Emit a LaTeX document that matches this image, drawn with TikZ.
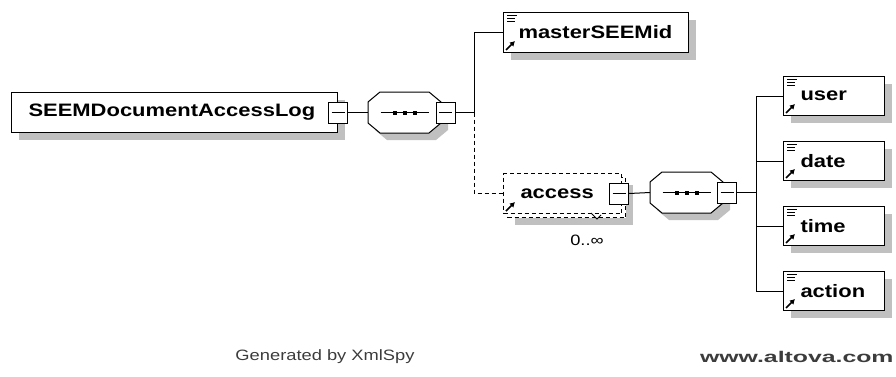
\documentclass[tikz,border=0pt]{standalone}
\usepackage{fontspec}
\setmainfont{Liberation Sans}[FakeStretch=1.22]
\newfontfamily\wwwfont{Liberation Sans}[FakeStretch=1.6]
\usetikzlibrary{arrows.meta,positioning,shadows}
\definecolor{shadegray}{RGB}{192,192,192}
\definecolor{footgray}{RGB}{60,60,60}
% small glyphs in the element boxes
\newcommand\docicon[1]{\draw[line width=.9pt] ([shift={(4pt,-3pt)}]#1.north west) -- ++(10pt,0pt) ([shift={(4pt,-6pt)}]#1.north west) -- ++(8pt,0pt) ([shift={(4pt,-9pt)}]#1.north west) -- ++(8pt,0pt);}
\newcommand\refarrow[1]{\draw[line width=1.6pt,-{Latex[length=5pt,width=6pt]}] ([shift={(3pt,3pt)}]#1.south west) -- ++(9pt,9pt);}
% octagon round a node: name, dx, dy, options
\newcommand\octagon[4]{\path[#4] ([shift={(#2+12pt,#3)}]#1.north west) -- ([shift={(#2-12pt,#3)}]#1.north east) -- ([shift={(#2,#3-10pt)}]#1.north east) -- ([shift={(#2,#3+10pt)}]#1.south east) -- ([shift={(#2-12pt,#3)}]#1.south east) -- ([shift={(#2+12pt,#3)}]#1.south west) -- ([shift={(#2,#3+10pt)}]#1.south west) -- ([shift={(#2,#3-10pt)}]#1.north west) -- cycle;}

\begin{document}
\begin{tikzpicture}[x=1pt,y=-1pt,line width=1pt,every node/.style={inner sep=0pt},
  elem/.style={draw,fill=white,anchor=north west,minimum height=40pt,drop shadow={shadow xshift=7pt,shadow yshift=-7pt,fill=shadegray,opacity=1}},
  lbl/.style={anchor=west,font=\bfseries\fontsize{18}{20}\selectfont},
  minus/.style={draw,fill=white,minimum width=19pt,minimum height=21pt,path picture={\draw[line width=1pt] ([xshift=3pt]path picture bounding box.west) -- ([xshift=-3pt]path picture bounding box.east);}},
  seq/.style={anchor=north west,minimum width=72pt,minimum height=40pt},
  dashbox/.style={dash pattern=on 4pt off 3pt}]
\useasboundingbox (0,0) rectangle (896,376);
% root element
\node[elem,minimum width=326pt] (root) at (11,92) {};
\node[lbl] (rootlbl) at ([xshift=17pt]root.west) {SEEMDocumentAccessLog};
\node[minus] (rminus) at (root.east) {};
% first sequence
\node[seq] (seq1) at (368,92) {};
\octagon{seq1}{7pt}{-7pt}{fill=shadegray}
\octagon{seq1}{0pt}{0pt}{draw,fill=white}
\draw ([xshift=-24pt]seq1.center) -- ([xshift=24pt]seq1.center);
\foreach \d in {-10,0,10} \fill ([xshift=\d pt]seq1.center) +(-2pt,-2pt) rectangle +(2pt,2pt);
\node[minus] (s1minus) at ([xshift=4.5pt]seq1.east) {};
\draw (rminus.east) -- (seq1.west);
\coordinate (j1) at ([xshift=19pt]s1minus.east);
% masterSEEMid
\node[elem,minimum width=185pt] (msid) at (503,12) {};
\node[lbl] (msidlbl) at ([xshift=15pt]msid.west) {masterSEEMid};
\docicon{msid}\refarrow{msid}
% access, 0..unbounded
\node[elem,dashbox,minimum width=118pt] (accback) at (507,177) {};
\node[draw,fill=white,dashbox,anchor=north west,minimum width=118pt,minimum height=40pt] (access) at (503,173) {};
\node[lbl] (acclbl) at ([xshift=17pt]access.west) {access};
\refarrow{access}
\draw[line width=.8pt] (591,213) -- (597,219) -- (601,215);
\node[minus] (aminus) at ([xshift=-3pt]access.east) {};
\node[font=\fontsize{15}{16}\selectfont] (occ) at (587,240) {0..∞};
\draw (s1minus.east) -- (j1) |- (msid.west);
\draw[dashbox] (j1) |- (access.west);
% second sequence
\node[seq] (seq2) at (650,172) {};
\octagon{seq2}{7pt}{-7pt}{fill=shadegray}
\octagon{seq2}{0pt}{0pt}{draw,fill=white}
\draw ([xshift=-24pt]seq2.center) -- ([xshift=24pt]seq2.center);
\foreach \d in {-10,0,10} \fill ([xshift=\d pt]seq2.center) +(-2pt,-2pt) rectangle +(2pt,2pt);
\node[minus] (s2minus) at ([xshift=4pt]seq2.east) {};
\draw (aminus.east) -- (seq2.west);
\coordinate (j2) at ([xshift=19pt]s2minus.east);
\draw (s2minus.east) -- (j2);
% children
\node[elem,minimum width=101pt,minimum height=39pt] (user) at (783,76) {};
\node[lbl] (userlbl) at ([xshift=17pt]user.west) {user};
\node[elem,minimum width=101pt,minimum height=39pt] (date) at (783,141) {};
\node[lbl] (datelbl) at ([xshift=17pt]date.west) {date};
\node[elem,minimum width=101pt,minimum height=39pt] (time) at (783,206) {};
\node[lbl] (timelbl) at ([xshift=17pt]time.west) {time};
\node[elem,minimum width=101pt,minimum height=39pt] (action) at (783,271) {};
\node[lbl] (actionlbl) at ([xshift=17pt]action.west) {action};
\foreach \n in {user,date,time,action}{\docicon{\n}\refarrow{\n}\draw (j2) |- (\n.west);}
% footer
\node[font=\fontsize{15}{16}\selectfont,text=footgray] (gen) at (325,357) {Generated by XmlSpy};
\node[font=\wwwfont\bfseries\fontsize{15.5}{16}\selectfont,text=footgray,anchor=east] (www) at (894,357) {www.altova.com};
\end{tikzpicture}
\end{document}
